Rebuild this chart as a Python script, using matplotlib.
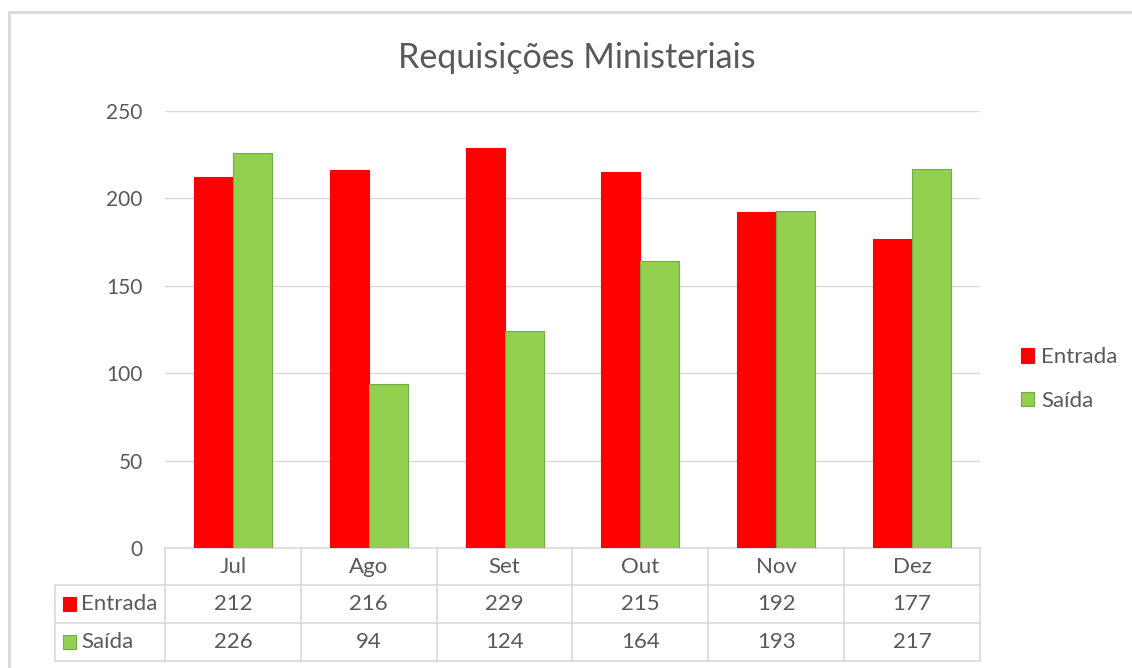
import matplotlib
matplotlib.use("Agg")
import matplotlib.pyplot as plt
from matplotlib.patches import Rectangle
from matplotlib.lines import Line2D
import matplotlib.transforms as mtrans

plt.rcParams['font.family'] = ['Lato', 'DejaVu Sans']

months = ["Jul", "Ago", "Set", "Out", "Nov", "Dez"]
entrada = [212, 216, 229, 215, 192, 177]
saida = [226, 94, 124, 164, 193, 217]
series_names = ["Entrada", "Saída"]
colors = ["#ff0000", "#92d050"]
edge_colors = ["#ff0000", "#70ad47"]
yticks = [0, 50, 100, 150, 200, 250]

W, H = 1132, 668
fig = plt.figure(figsize=(W / 100, H / 100), dpi=100)
TXT = "#595959"
GRID = "#d9d9d9"
FS = 16

# axes: x 165..980, y 111..548 (pixels from top)
L, R, T, B = 165, 980, 111, 548
ax = fig.add_axes([L / W, 1 - B / H, (R - L) / W, (B - T) / H])
px_x = lambda p: (p - L) / (R - L)   # pixel -> axes fraction x
px_y = lambda p: (B - p) / (B - T)   # pixel -> axes fraction y

# outer frame
fig.patches.append(Rectangle((9 / W, -0.01), 1.2, 1 - 12 / H + 0.01,
                             transform=fig.transFigure, fill=False,
                             edgecolor=GRID, linewidth=2, zorder=0))

bw = 0.287
x = list(range(len(months)))
ax.bar([i - bw / 2 for i in x], entrada, width=bw, color=colors[0],
       edgecolor=edge_colors[0], linewidth=0.8, label=series_names[0], zorder=3)
ax.bar([i + bw / 2 for i in x], saida, width=bw, color=colors[1],
       edgecolor=edge_colors[1], linewidth=0.8, label=series_names[1], zorder=3)

ax.set_xlim(-0.5, len(months) - 0.5)
ax.set_ylim(0, 250)
ax.set_yticks(yticks)
ax.set_yticklabels([str(v) for v in yticks], color=TXT, fontsize=15)
ax.tick_params(axis='y', length=0, pad=16)
ax.set_xticks([])
ax.grid(axis='y', color=GRID, linewidth=1, zorder=0)
for s in ax.spines.values():
    s.set_visible(False)

fig.text(577 / W, 1 - 58 / H, "Requisições Ministeriais", fontsize=24.5, color=TXT,
         ha='center', va='center')

# legend
leg = ax.legend(loc='center left', bbox_to_anchor=(px_x(1021), px_y(379)), frameon=False,
                fontsize=FS, handlelength=0.6, handleheight=0.6, borderpad=0,
                borderaxespad=0, handletextpad=0.3, labelspacing=1.05, labelcolor=TXT)

# data table
tA = ax.transAxes
tB = mtrans.blended_transform_factory(ax.transData, ax.transAxes)
rows_y = [548, 585, 623, 661]
lw = 1.2
ax.add_line(Line2D([0, 1], [px_y(548)] * 2, transform=tA, color=GRID, lw=lw, clip_on=False))
for yy in rows_y[1:]:
    ax.add_line(Line2D([px_x(55), 1], [px_y(yy)] * 2, transform=tA, color=GRID, lw=lw, clip_on=False))
for i in range(len(months) + 1):
    xx = i - 0.5
    ax.add_line(Line2D([xx, xx], [px_y(548), px_y(661)], transform=tB, color=GRID, lw=lw, clip_on=False))
ax.add_line(Line2D([px_x(55)] * 2, [px_y(585), px_y(661)], transform=tA, color=GRID, lw=lw, clip_on=False))

for i, m in enumerate(months):
    ax.text(i, px_y(567), m, transform=tB, ha='center', va='center', fontsize=FS, color=TXT)
for r, (vals, name, c, ec) in enumerate(zip([entrada, saida], series_names, colors, edge_colors)):
    yc = (rows_y[r + 1] + rows_y[r + 2]) / 2
    for i, v in enumerate(vals):
        ax.text(i, px_y(yc), str(v), transform=tB, ha='center', va='center', fontsize=FS, color=TXT)
    ax.add_patch(Rectangle((px_x(63), px_y(yc + 7)), 13 / (R - L), 14 / (B - T),
                           transform=tA, facecolor=c, edgecolor=ec, lw=0.8, clip_on=False))
    ax.text(px_x(81), px_y(yc), name, transform=tA, ha='left', va='center', fontsize=FS, color=TXT)

fig.savefig("out.png", dpi=100)
